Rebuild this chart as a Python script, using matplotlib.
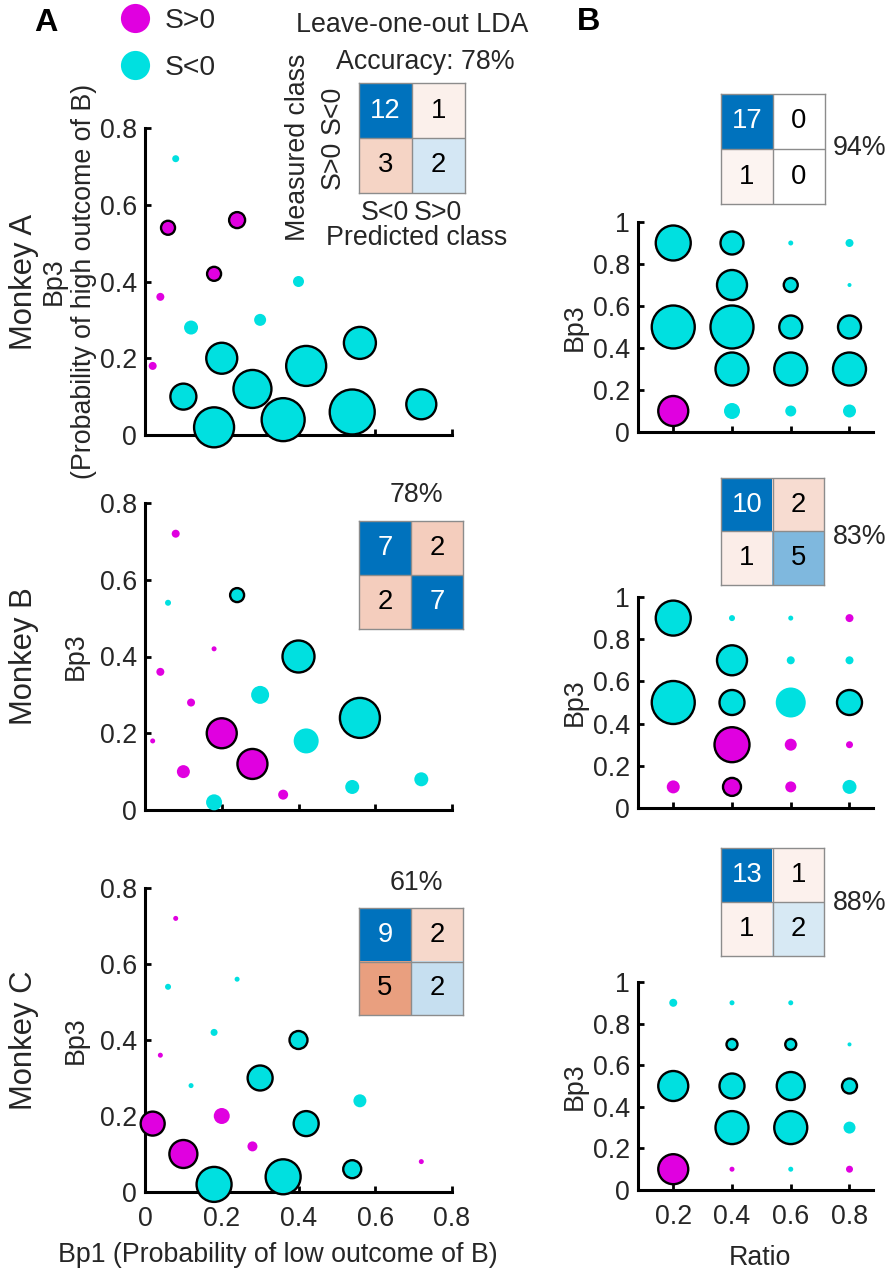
import numpy as np
import matplotlib
matplotlib.use("Agg")
import matplotlib.pyplot as plt
from matplotlib.lines import Line2D

plt.rcParams['font.family'] = ['Liberation Sans', 'DejaVu Sans']

W, H = 893, 1275
MAG = '#e000e0'
CYAN = '#00e0e0'
TXT = '#262626'
BLUE = np.array([0, 114, 189]) / 255
RED = np.array([217, 83, 25]) / 255

# ---- panel A data: same 18 gambles for each monkey
bp1 = [0.08, 0.06, 0.24, 0.18, 0.04, 0.40, 0.12, 0.30, 0.02,
       0.20, 0.56, 0.42, 0.28, 0.10, 0.36, 0.18, 0.54, 0.72]
bp3 = [0.72, 0.54, 0.56, 0.42, 0.36, 0.40, 0.28, 0.30, 0.18,
       0.20, 0.24, 0.18, 0.12, 0.10, 0.04, 0.02, 0.06, 0.08]

# class 1 = S>0 (magenta), 0 = S<0 (cyan); mag = bubble magnitude; sig = outlined
cls_a = [0, 1, 1, 1, 1, 0, 0, 0, 1, 0, 0, 0, 0, 0, 0, 0, 0, 0]
mag_a = [7, 14, 16, 14, 8, 11, 14, 12, 8, 31, 32, 40, 38, 26, 43, 40, 45, 30]
sig_a = [0, 1, 1, 1, 0, 0, 0, 0, 0, 1, 1, 1, 1, 1, 1, 1, 1, 1]

cls_b = [1, 0, 0, 1, 1, 0, 1, 0, 1, 1, 0, 0, 1, 1, 1, 0, 0, 0]
mag_b = [8, 6, 14, 5, 8, 32, 8, 18, 5, 30, 40, 25, 30, 13, 10, 16, 14, 14]
sig_b = [0, 0, 1, 0, 0, 1, 0, 0, 0, 1, 1, 0, 1, 0, 0, 0, 0, 0]

cls_c = [1, 0, 0, 0, 1, 0, 0, 0, 1, 1, 0, 0, 1, 1, 0, 0, 0, 1]
mag_c = [5, 6, 5, 7, 5, 18, 5, 25, 24, 16, 13, 25, 10, 28, 35, 35, 18, 5]
sig_c = [0, 0, 0, 0, 0, 1, 0, 1, 1, 0, 0, 1, 0, 1, 1, 1, 1, 0]

# ---- panel B data (ratio grid)
ratio_ab = [0.2, 0.2, 0.2, 0.4, 0.4, 0.4, 0.4, 0.4, 0.6, 0.6, 0.6, 0.6, 0.6,
            0.8, 0.8, 0.8, 0.8, 0.8]
bp3_ab = [0.9, 0.5, 0.1, 0.9, 0.7, 0.5, 0.3, 0.1, 0.9, 0.7, 0.5, 0.3, 0.1,
          0.9, 0.7, 0.5, 0.3, 0.1]

rcls_a = [0, 0, 1, 0, 0, 0, 0, 0, 0, 0, 0, 0, 0, 0, 0, 0, 0, 0]
rmag_a = [35, 43, 30, 23, 30, 43, 33, 16, 5, 14, 23, 33, 11, 8, 4, 23, 33, 13]
rsig_a = [1, 1, 1, 1, 1, 1, 1, 0, 0, 1, 1, 1, 0, 0, 0, 1, 1, 0]

rcls_b = [0, 0, 1, 0, 0, 0, 1, 1, 0, 0, 0, 1, 1, 1, 0, 0, 1, 0]
rmag_b = [35, 43, 13, 6, 30, 25, 35, 18, 5, 8, 30, 12, 11, 8, 8, 25, 7, 14]
rsig_b = [1, 1, 0, 0, 1, 1, 1, 1, 0, 0, 0, 0, 0, 0, 0, 1, 0, 0]

ratio_c = [0.2, 0.2, 0.2, 0.4, 0.4, 0.4, 0.4, 0.4, 0.6, 0.6, 0.6, 0.6, 0.6,
           0.8, 0.8, 0.8, 0.8]
bp3_c = [0.9, 0.5, 0.1, 0.9, 0.7, 0.5, 0.3, 0.1, 0.9, 0.7, 0.5, 0.3, 0.1,
         0.7, 0.5, 0.3, 0.1]
rcls_c = [0, 0, 1, 0, 0, 0, 0, 1, 0, 0, 0, 0, 0, 0, 0, 0, 1]
rmag_c = [8, 30, 30, 5, 11, 25, 33, 5, 5, 11, 28, 33, 5, 4, 15, 12, 7]
rsig_c = [0, 1, 1, 0, 1, 1, 1, 0, 0, 1, 1, 1, 0, 0, 1, 0, 0]

# confusion matrices (rows: measured S<0, S>0; cols: predicted S<0, S>0)
cm_a = [[12, 1], [3, 2]]
cm_b = [[7, 2], [2, 7]]
cm_c = [[9, 2], [5, 2]]
rcm_a = [[17, 0], [1, 0]]
rcm_b = [[10, 2], [1, 5]]
rcm_c = [[13, 1], [1, 2]]
acc = ['78%', '78%', '61%', '94%', '83%', '88%']
monkeys = ['Monkey A', 'Monkey B', 'Monkey C']

FS = 19.3

fig = plt.figure(figsize=(W / 100, H / 100), dpi=100)


def pax(left, top, right, bottom):
    return fig.add_axes([left / W, 1 - bottom / H, (right - left) / W, (bottom - top) / H])


def ftext(px, py, s, **kw):
    kw.setdefault('fontsize', FS)
    kw.setdefault('color', TXT)
    kw.setdefault('ha', 'center')
    kw.setdefault('va', 'center')
    fig.text(px / W, 1 - py / H, s, **kw)


def style(ax):
    for s in ['top', 'right']:
        ax.spines[s].set_visible(False)
    for s in ['left', 'bottom']:
        ax.spines[s].set_linewidth(2.2)
        ax.spines[s].set_color('black')
    ax.tick_params(direction='in', length=4, width=2, labelsize=FS,
                   labelcolor=TXT, pad=6)


def bubbles(ax, x, y, cls, mag, sig):
    cols = [MAG if c else CYAN for c in cls]
    edges = ['black' if s else 'none' for s in sig]
    sizes = (np.array(mag, dtype=float) / 1.389) ** 2
    ax.scatter(x, y, s=sizes, c=cols, edgecolors=edges, linewidths=1.7,
               clip_on=False, zorder=3)


def confmat(left, top, right, bottom, cm):
    ax = pax(left, top, right, bottom)
    cm = np.array(cm, dtype=float)
    mx = cm.max()
    img = np.ones((2, 2, 3))
    for i in range(2):
        for j in range(2):
            base = BLUE if i == j else RED
            f = cm[i, j] / mx
            img[i, j] = (1 - f) * np.ones(3) + f * base
            tc = 'white' if (i == j and f > 0.6) else 'black'
            ax.text(j, i, '%d' % cm[i, j], ha='center', va='center',
                    fontsize=FS + 0.5, color=tc)
    ax.imshow(img, aspect='auto', extent=(-0.5, 1.5, 1.5, -0.5))
    ax.axhline(0.5, color='#8c8c8c', lw=1)
    ax.axvline(0.5, color='#8c8c8c', lw=1)
    ax.set_xticks([])
    ax.set_yticks([])
    for s in ax.spines.values():
        s.set_color('#8c8c8c')
        s.set_linewidth(1)
    return ax


# ---- column A scatter panels
left_rows = [(128, 435), (503, 810), (888, 1192)]
left_data = [(cls_a, mag_a, sig_a), (cls_b, mag_b, sig_b), (cls_c, mag_c, sig_c)]
for k, ((top, bot), (cl, mg, sg)) in enumerate(zip(left_rows, left_data)):
    ax = pax(145, top, 452, bot)
    style(ax)
    bubbles(ax, bp1, bp3, cl, mg, sg)
    ax.set_xlim(0, 0.8)
    ax.set_ylim(0, 0.8)
    ax.set_xticks([0, 0.2, 0.4, 0.6, 0.8])
    ax.set_yticks([0, 0.2, 0.4, 0.6, 0.8])
    ax.set_yticklabels(['0', '0.2', '0.4', '0.6', '0.8'])
    if k == 2:
        ax.set_xticklabels(['0', '0.2', '0.4', '0.6', '0.8'])
        ax.tick_params(axis='x', pad=10)
    else:
        ax.set_xticklabels([])
    ymid = (top + bot) / 2
    ftext(24, ymid, monkeys[k], rotation=90, fontsize=FS + 3)
    if k == 0:
        ftext(69, ymid, 'Bp3\n(Probability of high outcome of B)', rotation=90,
              linespacing=1.2)
    else:
        ftext(76, ymid, 'Bp3', rotation=90)

ftext(278, 1255, 'Bp1 (Probability of low outcome of B)')

# ---- column B scatter panels
right_rows = [(222, 432), (597, 808), (982, 1190)]
right_data = [(ratio_ab, bp3_ab, rcls_a, rmag_a, rsig_a),
              (ratio_ab, bp3_ab, rcls_b, rmag_b, rsig_b),
              (ratio_c, bp3_c, rcls_c, rmag_c, rsig_c)]
for k, ((top, bot), (rx, ry, cl, mg, sg)) in enumerate(zip(right_rows, right_data)):
    ax = pax(638, top, 873, bot)
    style(ax)
    bubbles(ax, rx, ry, cl, mg, sg)
    ax.set_xlim(0.08, 0.88)
    ax.set_ylim(0, 1)
    ax.set_xticks([0.2, 0.4, 0.6, 0.8])
    ax.set_yticks([0, 0.2, 0.4, 0.6, 0.8, 1])
    ax.set_yticklabels(['0', '0.2', '0.4', '0.6', '0.8', '1'])
    if k == 2:
        ax.set_xticklabels(['0.2', '0.4', '0.6', '0.8'])
        ax.tick_params(axis='x', pad=10)
    else:
        ax.set_xticklabels([])
    ftext(575, (top + bot) / 2, 'Bp3', rotation=90)

ftext(760, 1258, 'Ratio')

# ---- confusion matrices
confmat(359, 83, 465, 193, cm_a)
ftext(412, 25, 'Leave-one-out LDA')
ftext(425, 62, 'Accuracy: ' + acc[0])
ftext(385, 213, 'S<0')
ftext(438, 213, 'S>0')
ftext(417, 238, 'Predicted class')
ftext(333, 110, 'S<0', rotation=90)
ftext(333, 165, 'S>0', rotation=90)
ftext(298, 147, 'Measured class', rotation=90)

confmat(359, 521, 463, 629, cm_b)
ftext(416, 495, acc[1])
confmat(359, 908, 463, 1015, cm_c)
ftext(416, 883, acc[2])

confmat(721, 94, 825, 204, rcm_a)
ftext(860, 148, acc[3])
confmat(721, 478, 824, 585, rcm_b)
ftext(860, 537, acc[4])
confmat(721, 848, 824, 956, rcm_c)
ftext(860, 903, acc[5])

# ---- legend and panel letters
handles = [Line2D([], [], ls='none', marker='o', ms=21, mfc=MAG, mec='none'),
           Line2D([], [], ls='none', marker='o', ms=21, mfc=CYAN, mec='none')]
fig.legend(handles, ['S>0', 'S<0'], loc='upper left',
           bbox_to_anchor=(118 / W, 1 - 8 / H), frameon=False, fontsize=FS + 1,
           handlelength=1.2, handletextpad=0.45, labelspacing=0.75, borderpad=0,
           borderaxespad=0, labelcolor=TXT)

ftext(46, 23, 'A', fontsize=FS + 4, fontweight='bold', color='black')
ftext(589, 22, 'B', fontsize=FS + 4, fontweight='bold', color='black')

fig.savefig('out.png', dpi=100)
